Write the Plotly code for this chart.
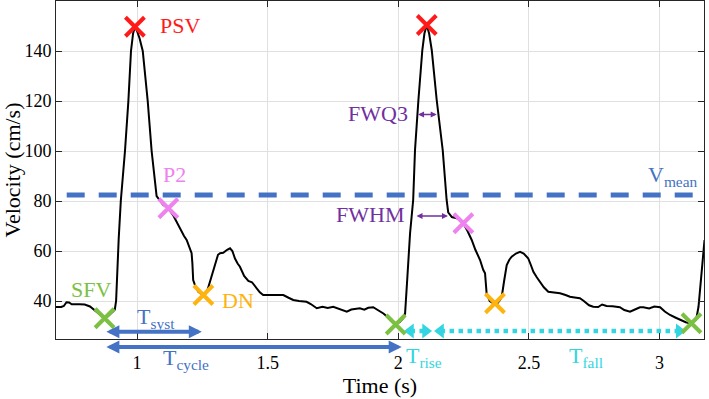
import plotly.graph_objects as go

# ---- waveform (time in s, velocity in cm/s) ----
time_s = [0.69, 0.71, 0.72, 0.73, 0.74, 0.75, 0.78, 0.80, 0.82, 0.84, 0.86, 0.876, 0.89, 0.905, 0.915,
          0.92, 0.925, 0.93, 0.938, 0.954, 0.967, 0.977, 0.985, 0.992, 1.0, 1.01, 1.022, 1.041, 1.056,
          1.065, 1.075, 1.10, 1.12, 1.14, 1.155, 1.165, 1.18, 1.19, 1.20, 1.209, 1.212, 1.215, 1.225,
          1.235, 1.25, 1.26, 1.27, 1.28, 1.29, 1.30, 1.31, 1.318, 1.33, 1.345, 1.356, 1.365, 1.375,
          1.385, 1.394, 1.41, 1.426, 1.44, 1.458, 1.47, 1.483, 1.52, 1.56, 1.58, 1.598, 1.62, 1.649,
          1.665, 1.688, 1.71, 1.73, 1.751, 1.77, 1.79, 1.803, 1.82, 1.835, 1.853, 1.87, 1.885, 1.904,
          1.92, 1.943, 1.96, 1.975, 1.992, 2.005, 2.018, 2.026, 2.035, 2.045, 2.057, 2.064, 2.077,
          2.092, 2.10, 2.109, 2.118, 2.128, 2.147, 2.17, 2.185, 2.191, 2.205, 2.224, 2.24, 2.249,
          2.265, 2.281, 2.295, 2.313, 2.325, 2.332, 2.338, 2.35, 2.365, 2.38, 2.39, 2.396, 2.405,
          2.415, 2.425, 2.434, 2.45, 2.466, 2.48, 2.497, 2.507, 2.517, 2.53, 2.542, 2.557, 2.574,
          2.60, 2.619, 2.64, 2.657, 2.675, 2.695, 2.71, 2.73, 2.746, 2.765, 2.78, 2.797, 2.82, 2.848,
          2.865, 2.887, 2.91, 2.925, 2.938, 2.96, 2.98, 3.002, 3.02, 3.04, 3.06, 3.078, 3.10, 3.12,
          3.14, 3.149, 3.16, 3.172]
velocity = [37.6, 37.6, 38.0, 39.5, 39.4, 38.7, 38.7, 38.6, 37.8, 36.0, 34.4, 33.1, 34.0, 35.5, 36.5,
            40.0, 55.0, 65.0, 80.0, 100.0, 120.0, 140.0, 147.0, 149.7, 148.0, 145.0, 140.0, 120.0, 100.0,
            90.0, 82.0, 78.5, 77.0, 74.0, 71.0, 68.4, 66.0, 64.4, 62.0, 59.1, 55.0, 48.4, 45.5,
            43.7, 42.5, 42.5, 44.5, 48.0, 52.0, 56.0, 58.5, 59.1, 59.3, 60.5, 61.1, 60.0, 57.0,
            55.0, 53.7, 50.0, 48.0, 47.5, 45.0, 43.5, 42.4, 42.4, 42.4, 41.3, 40.4, 40.0, 39.7,
            38.8, 37.1, 37.7, 37.2, 37.7, 37.0, 36.2, 35.7, 36.6, 36.9, 37.1, 36.5, 37.3, 37.5,
            36.5, 35.0, 33.5, 31.8, 31.0, 31.5, 33.0, 35.0, 50.0, 67.0, 80.4, 100.4, 120.4,
            140.4, 147.0, 150.4, 147.0, 140.4, 120.4, 100.4, 80.4, 75.5, 73.6, 73.1, 72.0, 71.0,
            68.0, 64.4, 60.5, 56.4, 52.5, 51.1, 43.1, 40.0, 39.0, 39.2, 40.5, 41.7, 48.0,
            54.4, 56.5, 57.7, 59.0, 59.7, 59.0, 57.1, 54.5, 51.7, 49.5, 47.7, 45.5, 43.7,
            43.3, 43.1, 42.4, 41.7, 41.4, 41.1, 40.0, 38.3, 37.7, 37.6, 38.6, 38.0, 37.9, 37.5,
            36.4, 35.7, 36.8, 37.5, 37.5, 37.0, 37.8, 37.5, 35.8, 34.4, 33.4, 32.4, 31.5, 31.0,
            32.5, 37.7, 52.0, 64.4]

# ---- feature points ----
sfv_t = [0.876, 1.99, 3.122]
sfv_v = [33.1, 30.6, 31.1]
psv_t = [0.992, 2.109]
psv_v = [149.7, 150.4]
p2_t = [1.12, 2.249]
p2_v = [77.1, 71.1]
dn_t = [1.254, 2.370]
dn_v = [42.4, 39.1]

v_mean = 82.4
v_mean_span = [0.731, 3.147]

# ---- intervals (time spans) ----
t_syst = [0.877, 1.248]
t_cycle = [0.877, 2.013]
t_rise = [2.018, 2.133]
t_fall = [2.133, 3.104]
fwhm_span = [2.064, 2.19]
fwhm_v = 74.0
fwq3_span = [2.07, 2.147]
fwq3_v = 114.6
interval_v = 28.0

x_ticks = [1, 1.5, 2, 2.5, 3]
x_tick_labels = ["1", "1.5", "2", "2.5", "3"]
y_ticks = [40, 60, 80, 100, 120, 140]

X_RANGE = [0.69, 3.17]
Y_RANGE = [24.8, 160]
PLOT_W = 648  # px

BLUE = "#4472C4"
CYAN = "#33D6E0"
PURPLE = "#7030A0"
GREEN = "#7CC043"
RED = "#FF1A1A"
PINK = "#EE82EE"
ORANGE = "#FFB30F"
FONT = "Liberation Serif"


def yp(v):
    return (v - Y_RANGE[0]) / (Y_RANGE[1] - Y_RANGE[0])


SEC_PER_PX = (X_RANGE[1] - X_RANGE[0]) / PLOT_W

fig = go.Figure()

# mean velocity dashed line
fig.add_trace(go.Scatter(x=v_mean_span, y=[v_mean, v_mean], mode="lines",
                         line=dict(color=BLUE, width=5, dash="18px,14px"),
                         hoverinfo="skip", showlegend=False))

# waveform
fig.add_trace(go.Scatter(x=time_s, y=velocity, mode="lines",
                         line=dict(color="black", width=2), showlegend=False))

# cyan dotted interval lines (T_rise, T_fall) with triangle heads
HEAD = 13
tip_off = 0.577 * HEAD * SEC_PER_PX
for span in (t_rise, t_fall):
    fig.add_trace(go.Scatter(x=[span[0] + tip_off, span[1] - tip_off],
                             y=[interval_v, interval_v], mode="lines",
                             line=dict(color=CYAN, width=4.5, dash="dot"),
                             hoverinfo="skip", showlegend=False))
    fig.add_trace(go.Scatter(x=[span[0] + tip_off, span[1] - tip_off],
                             y=[interval_v, interval_v], mode="markers",
                             marker=dict(symbol=["triangle-left", "triangle-right"],
                                         size=HEAD, color=CYAN),
                             hoverinfo="skip", showlegend=False))


# markers
def add_x(ts, vs, color):
    fig.add_trace(go.Scatter(x=ts, y=vs, mode="markers",
                             marker=dict(symbol="x-thin", size=19,
                                         line=dict(color=color, width=4)),
                             showlegend=False))


add_x(sfv_t, sfv_v, GREEN)
add_x(psv_t, psv_v, RED)
add_x(p2_t, p2_v, PINK)
add_x(dn_t, dn_v, ORANGE)

annotations = []


def dbl_arrow(span, v, color, width, size, paper=False):
    if paper:
        annotations.append(dict(x=span[1], y=yp(v), xref="x", yref="paper",
                                ax=span[0], ay=0, axref="x", ayref="pixel",
                                showarrow=True, arrowhead=2, arrowside="end+start",
                                arrowwidth=width, arrowsize=size, arrowcolor=color,
                                standoff=0, startstandoff=0, text=""))
    else:
        annotations.append(dict(x=span[1], y=v, xref="x", yref="y",
                                ax=span[0], ay=v, axref="x", ayref="y",
                                showarrow=True, arrowhead=2, arrowside="end+start",
                                arrowwidth=width, arrowsize=size, arrowcolor=color,
                                standoff=0, startstandoff=0, text=""))


dbl_arrow(t_syst, 27.7, BLUE, 4, 0.65)
dbl_arrow(t_cycle, 21.6, BLUE, 4, 0.65, paper=True)
dbl_arrow(fwhm_span, fwhm_v, PURPLE, 1.6, 0.75)
dbl_arrow(fwq3_span, fwq3_v, PURPLE, 1.6, 0.75)


def label(text, t, v, color, paper=False, xanchor="center"):
    annotations.append(dict(x=t, y=yp(v) if paper else v, xref="x",
                            yref="paper" if paper else "y",
                            text=text, showarrow=False, xanchor=xanchor, yanchor="middle",
                            font=dict(family=FONT, size=22, color=color)))


label("PSV", 1.165, 150.2, RED)
label("P2", 1.142, 90.6, PINK)
label("SFV", 0.824, 44.6, GREEN)
label("DN", 1.385, 40.2, ORANGE)
label("T<sub>syst</sub>", 1.074, 33.2, BLUE)
label("T<sub>cycle</sub>", 1.186, 17.0, BLUE, paper=True)
label("T<sub>rise</sub>", 2.1, 17.6, CYAN, paper=True)
label("T<sub>fall</sub>", 2.717, 17.8, CYAN, paper=True)
label("V<sub>mean</sub>", 3.053, 90.2, BLUE)
label("FWQ3", 1.922, 115.0, PURPLE)
label("FWHM", 1.89, 74.6, PURPLE)

fig.update_layout(
    width=709, height=399,
    margin=dict(l=56, r=5, t=1, b=60, autoexpand=False),
    paper_bgcolor="white", plot_bgcolor="white",
    font=dict(family=FONT, size=18, color="black"),
    annotations=annotations,
    showlegend=False,
)

fig.update_xaxes(range=X_RANGE, tickvals=x_ticks, ticktext=x_tick_labels,
                 showgrid=True, gridcolor="#E0E0E0", gridwidth=1, zeroline=False,
                 showline=True, linecolor="#262626", linewidth=1, mirror="ticks",
                 ticks="inside", ticklen=6, tickcolor="#262626",
                 ticklabelstandoff=7, automargin=False,
                 tickfont=dict(family=FONT, size=18),
                 title=dict(text="Time (s)", font=dict(family=FONT, size=22), standoff=2))
fig.update_yaxes(range=Y_RANGE, tickvals=y_ticks,
                 showgrid=True, gridcolor="#E0E0E0", gridwidth=1, zeroline=False,
                 showline=True, linecolor="#262626", linewidth=1, mirror="ticks",
                 ticks="inside", ticklen=6, tickcolor="#262626", automargin=False,
                 tickfont=dict(family=FONT, size=18),
                 title=dict(text="Velocity (cm/s)", font=dict(family=FONT, size=22), standoff=4))

fig.write_html("out.html", config={"displayModeBar": False},
               post_script="document.body.style.margin='0';document.body.style.overflow='hidden';")
